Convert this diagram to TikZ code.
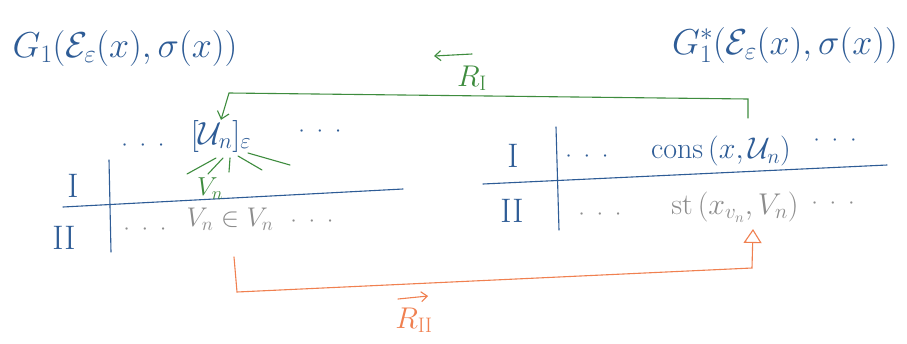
\RequirePackage{fix-cm}
\documentclass[tikz,border=0pt]{standalone}
\usetikzlibrary{arrows.meta}
\definecolor{inkblue}{RGB}{46,92,150}
\definecolor{inkgreen}{RGB}{62,140,62}
\definecolor{inkorange}{RGB}{240,128,80}
\definecolor{inkgray}{RGB}{140,140,140}
\tikzset{
  title/.style={text=inkblue, font=\fontsize{36}{40}\selectfont, inner sep=0pt},
  rowtext/.style={font=\fontsize{30}{32}\selectfont, inner sep=0pt},
  bluetext/.style={rowtext, text=inkblue},
  graytext/.style={rowtext, text=inkgray},
  dotgrp/.style={font=\fontsize{22}{24}\selectfont, inner sep=0pt},
  numeral/.style={text=inkblue, font=\fontsize{34}{36}\selectfont, inner sep=0pt},
  tableline/.style={draw=inkblue, line width=1.1pt, line cap=round},
  greenline/.style={draw=inkgreen, line width=1.1pt, line cap=round},
  orangeline/.style={draw=inkorange, line width=1.1pt, line cap=round},
}
\begin{document}
\begin{tikzpicture}[x=1pt,y=-1pt]
\useasboundingbox (0,0) rectangle (907,343);
\fill[white] (0,0) rectangle (907,343);

% titles
\node[title] (g1) at (125,48) {$G_1(\mathcal{E}_\varepsilon(x),\sigma(x))$};
\node[title] (g1s) at (785,45) {$G_1^{*}(\mathcal{E}_\varepsilon(x),\sigma(x))$};

% left table
\draw[tableline] (63,207) -- (403,189);
\draw[tableline] (109,160) -- (111,252);
\node[numeral] (lI) at (73,186) {I};
\node[numeral] (lII) at (64,238) {II};
\node[dotgrp, text=inkblue] (ld1) at (143,146) {$\cdot\,\,\cdot\,\,\cdot$};
\node[bluetext, font=\fontsize{32}{36}\selectfont] (un) at (221,136) {$[\mathcal{U}_n]_\varepsilon$};
\node[dotgrp, text=inkblue] (ld2) at (320,132) {$\cdot\,\,\cdot\,\,\cdot$};
\node[dotgrp, text=inkgray] (ld3) at (145,230) {$\cdot\,\,\cdot\,\,\cdot$};
\node[graytext, font=\fontsize{27}{30}\selectfont] (vn) at (230,219) {$V_n \in V_n$};
\node[dotgrp, text=inkgray] (ld4) at (312,222) {$\cdot\,\,\cdot\,\,\cdot$};

% green rays and V_n label
\node[text=inkgreen, font=\fontsize{26}{28}\selectfont, inner sep=0pt] (gv) at (210,189) {$V_n$};
\draw[greenline] (216,158) -- (187,174);
\draw[greenline] (223,158) -- (208,174);
\draw[greenline] (230,158) -- (229,172);
\draw[greenline] (238,156) -- (262,170);
\draw[greenline] (248,153) -- (290,165);

% right table
\draw[tableline] (483,184) -- (887,165);
\draw[tableline] (556,127) -- (559,230);
\node[numeral] (rI) at (513,156) {I};
\node[numeral] (rII) at (512,211) {II};
\node[dotgrp, text=inkblue] (rd1) at (587,157) {$\cdot\,\,\cdot\,\,\cdot$};
\node[bluetext] (cons) at (721,151) {$\mathrm{cons}\,(x,\mathcal{U}_n)$};
\node[dotgrp, text=inkblue] (rd2) at (835,141) {$\cdot\,\,\cdot\,\,\cdot$};
\node[dotgrp, text=inkgray] (rd3) at (600,215) {$\cdot\,\,\cdot\,\,\cdot$};
\node[graytext] (st) at (735,207) {$\mathrm{st}\,(x_{v_n},V_n)$};
\node[dotgrp, text=inkgray] (rd4) at (833,204) {$\cdot\,\,\cdot\,\,\cdot$};

% green connector R_I
\coordinate (gstart) at (748,118);
\draw[greenline, -{Straight Barb[length=7pt,width=12pt]}] (gstart) -- (748,99) -- (229,93) -- (un.north);
\node[text=inkgreen, font=\fontsize{30}{32}\selectfont, inner sep=0pt] (r1) at (472,78) {$R_{\mathrm{I}}$};
\coordinate (r1a) at (472,54);
\coordinate (r1b) at (434,56);
\draw[greenline, -{Straight Barb[length=6pt,width=10pt]}] (r1a) -- (r1b);

% orange connector R_II
\coordinate (ostart) at (234,257);
\coordinate (oend) at (753,229);
\draw[orangeline, -{Triangle[open,length=14pt,width=18pt]}] (ostart) -- (237,292) -- (752,268) -- (oend);
\node[text=inkorange, font=\fontsize{30}{32}\selectfont, inner sep=0pt] (r2) at (414,320) {$R_{\mathrm{II}}$};
\coordinate (r2a) at (398,299);
\coordinate (r2b) at (428,296);
\draw[orangeline, -{Straight Barb[length=6pt,width=10pt]}] (r2a) -- (r2b);
\end{tikzpicture}
\end{document}
